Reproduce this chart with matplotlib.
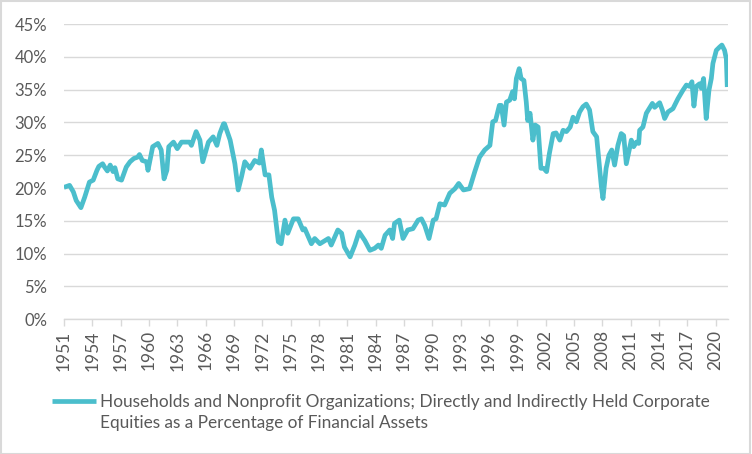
import matplotlib.pyplot as plt
from matplotlib.patches import Rectangle
from matplotlib.ticker import FuncFormatter

# points (decimal year, percent)
years = [
    1951.0, 1951.6, 1952.0, 1952.3, 1952.8, 1953.2, 1953.7, 1954.1, 1954.5, 1954.7,
    1955.1, 1955.3, 1955.6, 1955.9, 1956.2, 1956.4, 1956.7, 1957.1, 1957.6, 1958.0,
    1958.4, 1958.8, 1959.0, 1959.3, 1959.75, 1959.9, 1960.4, 1960.95, 1961.3, 1961.6,
    1961.9, 1962.1, 1962.6, 1963.0, 1963.45, 1964.3, 1964.5, 1965.0, 1965.4, 1965.7,
    1966.3, 1966.8, 1967.2, 1967.5, 1967.9, 1968.0, 1968.6, 1969.1, 1969.45, 1969.8,
    1970.15, 1970.7, 1971.2, 1971.7, 1971.9, 1972.3, 1972.7, 1973.0, 1973.3, 1973.7,
    1974.0, 1974.4, 1974.7, 1975.3, 1975.8, 1976.3, 1976.5, 1977.2, 1977.55, 1978.1,
    1979.0, 1979.3, 1980.0, 1980.4, 1980.7, 1981.3, 1981.8, 1982.25, 1982.85, 1983.4,
    1983.9, 1984.3, 1984.6, 1985.0, 1985.5, 1985.8, 1986.0, 1986.5, 1986.9, 1987.4,
    1987.95, 1988.5, 1988.85, 1989.2, 1989.65, 1990.1, 1990.4, 1990.8, 1991.3, 1991.85,
    1992.4, 1992.8, 1993.3, 1993.95, 1994.5, 1995.0, 1995.55, 1996.1, 1996.4, 1996.7,
    1997.1, 1997.3, 1997.6, 1997.85, 1998.2, 1998.5, 1998.7, 1998.9, 1999.2, 1999.4,
    1999.7, 1999.95, 2000.1, 2000.35, 2000.65, 2000.9, 2001.2, 2001.5, 2001.8, 2002.1,
    2002.4, 2002.8, 2003.1, 2003.5, 2003.85, 2004.2, 2004.6, 2004.9, 2005.25, 2005.6,
    2005.95, 2006.3, 2006.65, 2007.0, 2007.4, 2007.7, 2007.9, 2008.07, 2008.4, 2008.7,
    2009.0, 2009.3, 2009.65, 2010.0, 2010.26, 2010.54, 2011.07, 2011.32, 2011.6, 2011.85,
    2011.95, 2012.3, 2012.66, 2013.08, 2013.3, 2013.54, 2014.07, 2014.35, 2014.6, 2014.95,
    2015.48, 2016.0, 2016.53, 2016.9, 2017.24, 2017.49, 2017.7, 2017.95, 2018.3, 2018.48,
    2018.72, 2019.0, 2019.29, 2019.54, 2019.71, 2020.07, 2020.42, 2020.66, 2020.94, 2021.13,
    2021.23,
]
equity_share = [
    20.1, 20.4, 19.4, 18.1, 17.0, 18.6, 20.9, 21.2, 22.7, 23.3,
    23.7, 23.2, 22.6, 23.5, 22.5, 23.1, 21.4, 21.2, 23.2, 24.0,
    24.5, 24.7, 25.1, 24.2, 24.0, 22.7, 26.3, 26.8, 25.8, 21.4,
    22.7, 26.3, 27.0, 26.0, 27.0, 27.0, 26.5, 28.6, 27.3, 24.0,
    27.0, 27.8, 26.5, 28.3, 29.8, 29.8, 27.3, 23.7, 19.7, 21.7,
    24.0, 23.0, 24.2, 23.8, 25.8, 22.0, 22.0, 18.6, 16.6, 11.8,
    11.5, 15.1, 13.1, 15.3, 15.3, 13.6, 13.8, 11.5, 12.3, 11.5,
    12.3, 11.3, 13.6, 13.1, 11.0, 9.5, 11.3, 13.3, 12.0, 10.5,
    10.8, 11.3, 10.8, 12.8, 13.6, 12.3, 14.6, 15.1, 12.3, 13.6,
    13.8, 15.1, 15.3, 14.3, 12.3, 15.1, 15.3, 17.6, 17.4, 19.2,
    19.9, 20.7, 19.7, 19.9, 22.5, 24.7, 25.8, 26.5, 30.1, 30.3,
    32.6, 32.6, 29.6, 33.1, 33.4, 34.7, 33.6, 36.7, 38.2, 36.7,
    36.4, 33.1, 30.3, 31.4, 27.3, 29.6, 29.3, 23.0, 23.0, 22.5,
    25.3, 28.3, 28.4, 27.3, 28.8, 28.6, 29.3, 30.8, 30.1, 31.6,
    32.4, 32.8, 31.9, 28.6, 27.8, 23.2, 20.2, 18.4, 23.0, 25.0,
    25.8, 23.5, 26.5, 28.3, 28.0, 23.7, 27.3, 26.3, 27.0, 26.8,
    28.8, 29.3, 31.4, 32.4, 32.9, 32.3, 33.0, 31.9, 30.6, 31.6,
    32.1, 33.6, 34.9, 35.7, 35.5, 36.2, 32.5, 35.5, 35.9, 35.2,
    36.7, 30.6, 34.9, 36.7, 39.0, 41.0, 41.5, 41.8, 41.0, 39.7,
    35.4,
]
tick_years = list(range(1951, 2021, 3))
y_ticks = [0, 5, 10, 15, 20, 25, 30, 35, 40, 45]
label_line1 = "Households and Nonprofit Organizations; Directly and Indirectly Held Corporate"
label_line2 = "Equities as a Percentage of Financial Assets"

plt.rcParams["font.family"] = ["Lato", "DejaVu Sans"]

teal = "#4BBECC"
grid_grey = "#D9D9D9"
text_grey = "#595959"

fig = plt.figure(figsize=(7.52, 4.54), dpi=100)
ax = fig.add_axes([0.085, 0.297, 0.883, 0.650])

line, = ax.plot(years, equity_share, color=teal, linewidth=3.4,
                solid_joinstyle="round", solid_capstyle="butt", zorder=3)

ax.set_xlim(1951, 2021.3)
ax.set_ylim(0, 45)
ax.set_yticks(y_ticks)
ax.yaxis.set_major_formatter(FuncFormatter(lambda v, p: f"{v:.0f}%"))
ax.set_xticks(tick_years)
ax.set_xticklabels([str(y) for y in tick_years], rotation=90)

ax.grid(axis="y", color=grid_grey, linewidth=1.0)
ax.set_axisbelow(True)
for side in ["top", "right", "left"]:
    ax.spines[side].set_visible(False)
ax.spines["bottom"].set_color(grid_grey)
ax.spines["bottom"].set_linewidth(1.0)
ax.tick_params(axis="y", length=0, pad=12, labelsize=12, labelcolor=text_grey)
ax.tick_params(axis="x", length=5, width=1, color=grid_grey, pad=3,
               labelsize=12.5, labelcolor=text_grey)

# legend holds the first line; the wrapped second line sits under its text
leg = fig.legend([line], [label_line1], loc="upper left", bbox_to_anchor=(0.069, 0.133),
                 frameon=False, fontsize=12.4, handlelength=2.55, handletextpad=0.25,
                 labelcolor=text_grey, borderaxespad=0, borderpad=0)
fig.canvas.draw()
bb = leg.get_texts()[0].get_window_extent().transformed(fig.transFigure.inverted())
fig.text(bb.x0, bb.y0 - 0.048, label_line2, fontsize=12.4, color=text_grey,
         ha="left", va="bottom")

fig.patches.append(Rectangle((0.001, 0.001), 0.997, 0.997, transform=fig.transFigure,
                             fill=False, edgecolor=grid_grey, linewidth=1.5))

fig.savefig("out.png", dpi=100)
